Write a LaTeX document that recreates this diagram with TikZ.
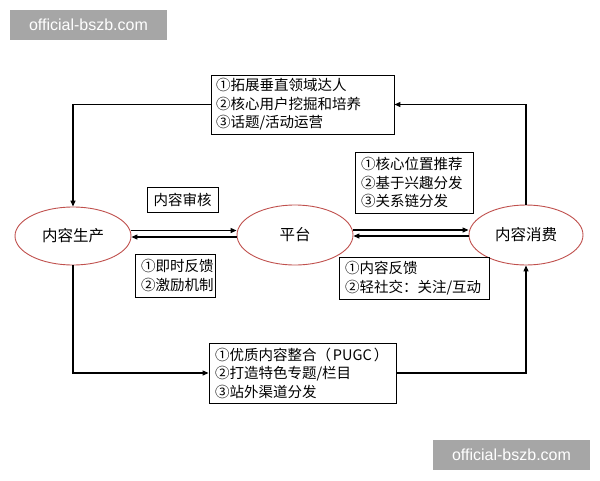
\documentclass[tikz,border=0pt]{standalone}
\usepackage{fontspec}
\setmainfont{Noto Sans CJK SC}
\newfontfamily\wmfont{Liberation Sans}
\usetikzlibrary{arrows.meta,shapes.geometric}
\definecolor{ellred}{RGB}{192,80,77}
\definecolor{wmgray}{RGB}{166,166,166}
\begin{document}
\begin{tikzpicture}[x=1pt,y=-1pt,
  ell/.style={draw=ellred,line width=0.9pt,ellipse,inner sep=0pt,fill=white,
    font=\fontsize{15.5}{18}\selectfont},
  infobox/.style={draw=black,line width=0.9pt,align=left,inner ysep=0pt,
    font=\fontsize{14.5}{18.5}\selectfont},
  conn/.style={line width=1.2pt,-{Triangle[length=6pt,width=5pt]}},
  wm/.style={fill=wmgray,text=white,font=\wmfont\fontsize{16}{18}\selectfont,
    minimum width=157pt,minimum height=30pt,inner sep=0pt}]
\fill[white] (0,0) rectangle (600,480);
\useasboundingbox (0,0) rectangle (600,480);

\node[wm] (wm1) at (88.5,25) {official-bszb.com};
\node[wm] (wm2) at (511.5,455) {official-bszb.com};

\node[ell,minimum width=116pt,minimum height=58pt] (A) at (73,236) {内容生产};
\node[ell,minimum width=116pt,minimum height=60pt] (B) at (295,235) {平台};
\node[ell,minimum width=114pt,minimum height=60pt] (C) at (526,235) {内容消费};

\node[infobox,text width=173pt,inner xsep=5pt,minimum height=59pt] (top) at (302.5,104.5)
  {①拓展垂直领域达人\\②核心用户挖掘和培养\\③话题/活动运营};
\node[infobox,text width=175pt,inner xsep=6pt,minimum height=60pt] (bot) at (302.5,373)
  {\mbox{①优质内容整合（\hspace{2pt}PUGC\hspace{2pt}）}\\②打造特色专题/栏目\\③站外渠道分发};
\node[infobox,minimum width=71pt,minimum height=25pt,inner xsep=0pt] (audit) at (182.5,199.5)
  {内容审核};
\node[infobox,text width=68pt,inner xsep=6pt,minimum height=43pt] (fb1) at (175,275.5)
  {①即时反馈\\②激励机制};
\node[infobox,text width=106pt,inner xsep=6pt,minimum height=61pt] (rec) at (414,182.5)
  {①核心位置推荐\\②基于兴趣分发\\③关系链分发};
\node[infobox,text width=138pt,inner xsep=6pt,minimum height=42pt] (fb2) at (414,278)
  {①内容反馈\\②轻社交：关注/互动};

\draw[conn] (top.west) -| (A.north);
\draw[conn] (C.north) |- (top.east);
\draw[conn] (A.south) |- (bot.west);
\draw[conn] (bot.east) -| (C.south);

\draw[conn] ([yshift=5.5pt]A.east) -- ([yshift=5.5pt]A.east -| B.west);
\draw[conn] ([yshift=-2pt]B.west) -- ([yshift=-2pt]B.west -| A.east);
\draw[conn] ([yshift=5pt]B.east) -- ([yshift=5pt]B.east -| C.west);
\draw[conn] ([yshift=-1pt]C.west) -- ([yshift=-1pt]C.west -| B.east);
\end{tikzpicture}
\end{document}
